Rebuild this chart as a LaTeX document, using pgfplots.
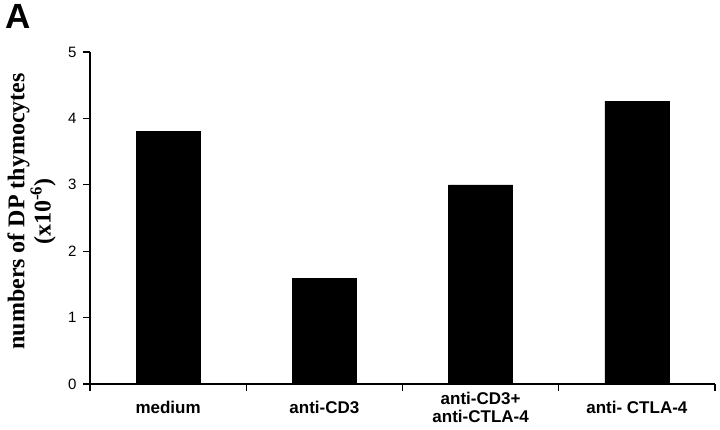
\documentclass[border=0pt]{standalone}
\usepackage{pgfplots}
\pgfplotsset{compat=1.18}
\usepackage{fontspec}
\setmainfont{Liberation Sans}
\newfontfamily\serifbold{Liberation Serif}
\begin{document}
\begin{tikzpicture}
\useasboundingbox (0,0) rectangle (720bp,430bp);
\begin{axis}[
  at={(90bp,46bp)}, anchor=south west,
  scale only axis, width=625bp, height=332bp,
  axis lines*=left,
  axis line style={line width=1.3pt},
  ybar, bar width=0.41,
  xmin=-0.5, xmax=3.5, ymin=0, ymax=5,
  xtick={0,1,2,3},
  xticklabels={medium,anti-CD3,{anti-CD3+\\anti-CTLA-4},anti- CTLA-4},
  minor xtick={-0.5,0.5,1.5,2.5,3.5},
  ytick={0,1,2,3,4,5},
  tick align=outside,
  major x tick style={draw=none},
  every tick/.style={line width=1.3pt, black},
  major tick length=7bp, minor tick length=7bp,
  xticklabel style={font=\fontsize{17bp}{18bp}\selectfont\bfseries, align=center, anchor=center, yshift=-16bp},
  yticklabel style={font=\fontsize{15bp}{17bp}\selectfont, xshift=-3bp},
  /pgf/number format/assume math mode=true,
  ylabel={numbers of DP thymocytes\\(x10\textsuperscript{-6})},
  ylabel style={font=\fontsize{24bp}{25bp}\selectfont\serifbold\bfseries, align=center, inner sep=0pt,
    at={(axis description cs:-0.0544,0.52)}, anchor=south},
  clip=false,
]
\addplot[fill=black, draw=black] coordinates {(0,3.81) (1,1.59) (2,3.00) (3,4.26)};
\node[font=\fontsize{35bp}{36bp}\selectfont\bfseries, anchor=north west, inner sep=0pt] at (axis description cs:-0.136,1.145) {A};
\end{axis}
\end{tikzpicture}
\end{document}
